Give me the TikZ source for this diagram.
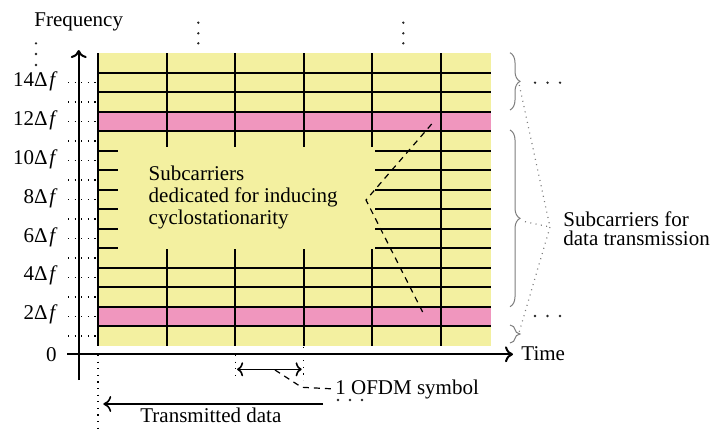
\documentclass[tikz,border=0pt]{standalone}
\usepackage{fontspec}
\setmainfont{Liberation Serif}
\usetikzlibrary{arrows.meta,decorations.pathreplacing}
\definecolor{cyel}{RGB}{243,240,160}
\definecolor{cpink}{RGB}{240,150,190}
\definecolor{cbrace}{RGB}{125,125,125}
\tikzset{
 gridline/.style={line width=1pt, black},
 guide/.style={line width=0.6pt, dash pattern=on 0.6pt off 2.7pt},
 lbl/.style={inner sep=0pt, font=\fontsize{10.5}{11}\selectfont},
 pointer/.style={line width=0.6pt, dash pattern=on 3pt off 2.5pt},
 bracestyle/.style={cbrace, line width=0.5pt, decorate, decoration={brace, amplitude=5pt}},
 conn/.style={cbrace, line width=0.6pt, dash pattern=on 0.5pt off 2.2pt},
 axisline/.style={line width=1pt, -{To[length=4pt,width=8pt]}},
 dimline/.style={line width=0.8pt, {To[length=3pt,width=7pt]}-{To[length=3pt,width=7pt]}},
 dotmark/.style={fill=black!85},
}
\begin{document}
\begin{tikzpicture}[x=0.5pt,y=-0.5pt]
\useasboundingbox (0,0) rectangle (717,434);
% background blocks
\fill[cyel] (98,53.3) rectangle (491,345.7);
\fill[cpink] (98,{345.7-19.49*1}) rectangle (491,{345.7-19.49*2});
\fill[cpink] (98,{345.7-19.49*11}) rectangle (491,{345.7-19.49*12});
% full horizontal lines
\foreach \j in {1,2,3,4,11,12,13,14}
  \draw[gridline] (98,{345.7-19.49*\j}) -- (491,{345.7-19.49*\j});
% short ticks in the middle rows
\foreach \j in {5,...,10}{
  \draw[gridline] (98,{345.7-19.49*\j}) -- (118,{345.7-19.49*\j});
  \draw[gridline] (375,{345.7-19.49*\j}) -- (491,{345.7-19.49*\j});
}
% vertical lines
\draw[gridline] (98,53.3) -- (98,345.7);
\foreach \k in {1,...,4}{
  \draw[gridline] ({98+68.55*\k},53.3) -- ({98+68.55*\k},147);
  \draw[gridline] ({98+68.55*\k},249) -- ({98+68.55*\k},345.7);
}
\draw[gridline] ({98+68.55*5},53.3) -- ({98+68.55*5},345.7);
% dotted guides to the frequency axis
\foreach \k in {0,...,13}
  \draw[guide] (68,{345.7-19.49*(\k+0.5)}) -- (97,{345.7-19.49*(\k+0.5)});
% axes
\coordinate (fbot) at (78.7,380);
\coordinate (ftop) at (78.7,50);
\coordinate (tleft) at (67,354.3);
\coordinate (tright) at (513,354.3);
\draw[axisline] (fbot) -- (ftop);
\draw[axisline] (tleft) -- (tright);
% axis labels
\node[lbl, anchor=base west] (freq) at (34,26.7) {Frequency};
\node[lbl, anchor=base west] (time) at (521,360) {Time};
\node[lbl, anchor=base east] (zero) at (57,361.5) {0};
\foreach \n/\k in {2/1,4/3,6/5,8/7,10/9,12/11,14/13}
  \node[lbl, anchor=base east] (l\n) at (58,{345.7-19.49*(\k+0.5)+3.5}) {\n Δ\kern0.8pt\textit{f}};
% vertical dots
\foreach \y in {43.3,54,65}
  \fill[dotmark] (36,\y) circle[radius=0.65pt];
\foreach \y in {22.7,33.3,43.3}{
  \fill[dotmark] (198.3,\y) circle[radius=0.65pt];
  \fill[dotmark] (403.3,\y) circle[radius=0.65pt];
}
% inner text and pointers
\node[lbl, anchor=base west, align=left, font=\fontsize{10.5}{11}\selectfont] (ded) at (148.3,224)
  {Subcarriers\\dedicated for inducing\\cyclostationarity};
\coordinate (pv) at (366,200);
\coordinate (ptop) at (431.7,124);
\coordinate (pbot) at (423.3,313.3);
\draw[pointer] (ptop) -- (pv) -- (pbot);
% braces
\coordinate (b1a) at (510,52.7); \coordinate (b1b) at (510,110);
\coordinate (b2a) at (510,130);  \coordinate (b2b) at (510,306.7);
\coordinate (b3a) at (510,325);  \coordinate (b3b) at (510,343);
\draw[bracestyle] (b1a) -- (b1b);
\draw[bracestyle] (b2a) -- (b2b);
\draw[bracestyle] (b3a) -- (b3b);
\foreach \x in {535,547.5,560}{
  \fill[dotmark] (\x,82.7) circle[radius=0.65pt];
  \fill[dotmark] (\x,316) circle[radius=0.65pt];
}
\node[lbl, anchor=base west, align=left, font=\fontsize{10.5}{9.3}\selectfont] (data) at (563,245)
  {Subcarriers for\\data transmission};
\coordinate (t1) at (519.3,85);
\coordinate (t2) at (525,221.7);
\coordinate (t3) at (519.3,331.7);
\coordinate (conv) at (550,227);
\draw[conn] (t1) -- (conv);
\draw[conn] (t2) -- (conv);
\draw[conn] (t3) -- (conv);
% OFDM symbol span
\draw[guide] (98,355) -- (98,434);
\draw[guide] ({98+68.55*2},355) -- ({98+68.55*2},380);
\draw[guide] ({98+68.55*3},347) -- ({98+68.55*3},380);
\coordinate (sa) at ({98+68.55*2+2},369.3);
\coordinate (sb) at ({98+68.55*3-2},369.3);
\draw[dimline] (sa) -- (sb);
\node[lbl, anchor=base west] (ofdm) at (335,394) {1 OFDM symbol};
\coordinate (q1) at (275,370);
\coordinate (q2) at (301.7,387.3);
\draw[pointer] (q1) -- (q2) -- (ofdm.west);
\foreach \x in {338,350,362}
  \fill[dotmark] (\x,400) circle[radius=0.65pt];
% transmitted data
\coordinate (ta) at (323,404);
\coordinate (tb) at (103.3,404);
\draw[line width=0.8pt, -{To[length=4pt,width=8pt]}] (ta) -- (tb);
\node[lbl, anchor=base west] (tx) at (140,422.7) {Transmitted data};
\end{tikzpicture}
\end{document}
